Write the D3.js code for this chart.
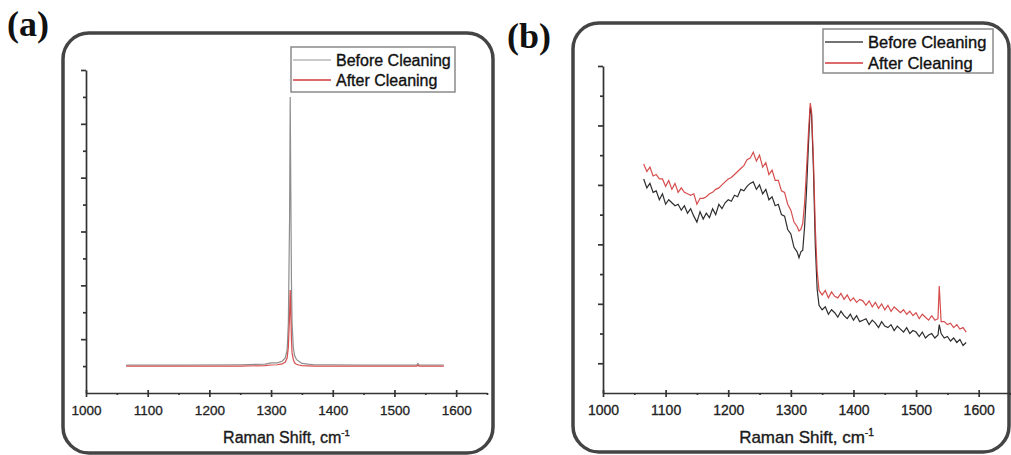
<!DOCTYPE html>
<html>
<head>
<meta charset="utf-8">
<script src="https://cdn.jsdelivr.net/npm/d3@7"></script>
<style>
  body { margin: 0; background: #fff; }
</style>
</head>
<body>
<div id="viz"></div>
<script>
// ========================================
// Data
// ========================================

var x_ticks = [1000, 1100, 1200, 1300, 1400, 1500, 1600];
var x_minor = [1050, 1150, 1250, 1350, 1450, 1550, 1650];
var legend_labels = ['Before Cleaning', 'After Cleaning'];
var axis_title = 'Raman Shift, cm';

// panel (a)
var shift_a = [1065, 1150, 1250, 1290, 1300, 1310, 1318, 1323, 1326, 1328, 1330, 1331, 1332, 1333, 1334,
               1336, 1338, 1341, 1345, 1350, 1360, 1370, 1400, 1450, 1500, 1536, 1538, 1540, 1580];
var before_a = [1.04, 1.04, 1.05, 1.07, 1.12, 1.12, 1.18, 1.3, 1.6, 2.6, 6.5, 11.0, 7.5, 4.2, 2.6,
                1.7, 1.4, 1.25, 1.18, 1.1, 1.07, 1.05, 1.05, 1.04, 1.04, 1.04, 1.1, 1.04, 1.04];
var after_a = [1.0, 1.0, 1.0, 1.02, 1.04, 1.05, 1.08, 1.15, 1.3, 1.7, 2.9, 3.83, 3.0, 2.0, 1.5,
               1.25, 1.12, 1.07, 1.04, 1.02, 1.01, 1.0, 1.0, 1.0, 1.0, 1.0, 1.03, 1.0, 1.0];

// panel (b)
var shift_b = [1065, 1070, 1075, 1080, 1085, 1090, 1095, 1100, 1105, 1110,
               1115, 1120, 1125, 1130, 1135, 1140, 1145, 1150, 1155, 1160,
               1165, 1170, 1175, 1180, 1185, 1190, 1195, 1200, 1205, 1210,
               1215, 1220, 1225, 1230, 1235, 1240, 1245, 1250, 1255, 1260,
               1265, 1270, 1275, 1280, 1285, 1290, 1295, 1300, 1305, 1310,
               1313, 1316, 1319, 1322, 1325, 1328, 1331, 1333, 1336, 1339, 1342, 1345,
               1350, 1355, 1360, 1365, 1370, 1375, 1380, 1385, 1390, 1395,
               1400, 1405, 1410, 1415, 1420, 1425, 1430, 1435, 1440, 1445,
               1450, 1455, 1460, 1465, 1470, 1475, 1480, 1485, 1490, 1495,
               1500, 1505, 1510, 1515, 1520, 1525, 1530, 1535,
               1537,
               1540, 1545, 1550, 1555, 1560, 1565, 1570, 1575, 1580];
var before_b = [7.2, 6.9, 7.05, 6.75, 6.8, 6.5, 6.7, 6.35, 6.5, 6.4,
                6.3, 6.35, 6.15, 6.3, 6.05, 6.2, 5.95, 5.75, 6.1, 5.85,
                6.05, 5.9, 6.2, 6.0, 6.35, 6.2, 6.4, 6.5, 6.45, 6.65,
                6.6, 6.85, 6.8, 6.95, 7.05, 7.1, 6.85, 7.0, 6.7, 6.85,
                6.5, 6.6, 6.3, 6.35, 6.0, 5.95, 5.5, 5.35, 4.9, 4.75,
                4.55, 4.75, 4.8, 5.6, 6.8, 8.3, 9.6, 9.4, 7.6, 5.0, 3.5, 2.95,
                2.8, 2.9, 2.65, 2.8, 2.7, 2.55, 2.75, 2.6, 2.5, 2.65,
                2.45, 2.6, 2.4, 2.45, 2.5, 2.3, 2.45, 2.35, 2.2, 2.4,
                2.25, 2.2, 2.3, 2.1, 2.25, 2.15, 2.05, 2.2, 2.0, 2.1,
                2.05, 1.9, 2.05, 1.85, 1.95, 2.0, 1.85, 1.95,
                2.3,
                2.0, 1.85, 1.9, 1.75, 1.85, 1.7, 1.8, 1.6, 1.7];
var after_b = [7.7, 7.45, 7.6, 7.3, 7.35, 7.2, 7.2, 6.95, 7.15, 6.85,
               7.05, 6.75, 6.9, 6.75, 6.7, 6.65, 6.7, 6.35, 6.55, 6.55,
               6.6, 6.7, 6.75, 6.85, 6.9, 7.0, 7.1, 7.2, 7.25, 7.35,
               7.45, 7.55, 7.65, 7.85, 7.9, 8.1, 7.8, 8.0, 7.6, 7.75,
               7.35, 7.5, 7.15, 7.15, 6.8, 6.75, 6.35, 6.15, 5.75, 5.6,
               5.45, 5.5, 5.7, 6.4, 7.5, 8.7, 9.75, 9.5, 7.9, 5.6, 4.1, 3.45,
               3.3, 3.45, 3.2, 3.4, 3.25, 3.2, 3.35, 3.15, 3.3, 3.1,
               3.2, 3.05, 3.15, 3.1, 2.95, 3.1, 2.9, 3.05, 2.85, 3.0,
               2.8, 2.95, 2.75, 2.9, 2.8, 2.7, 2.8, 2.65, 2.75, 2.6,
               2.7, 2.5, 2.65, 2.55, 2.45, 2.6, 2.45, 2.5,
               3.6,
               2.4, 2.4, 2.3, 2.35, 2.2, 2.3, 2.15, 2.2, 2.05];

// ========================================
// Layout
// ========================================

var width = 1011,
    height = 455,
    font = "'Liberation Sans', Arial, sans-serif",
    after_color = '#d23a3a',
    axis_color = '#333';

var panels = [
   {
      label: '(a)', label_x: 7, label_y: 36,
      box: {x: 63, y: 33, w: 430, h: 420},
      plot: {x0: 86, x1: 487, y0: 393, y1: 70},
      y_max: 12, major_odd: false,
      shift: shift_a, before: before_a, after: after_a,
      before_color: '#8e8e8e', legend_before: '#b8b8b8',
      legend: {x: 291, y: 47, w: 164, h: 45, row1: 60, row2: 80},
      tick_font: 13.5, tick_pad: 8, title_font: 16, title_y: 443, legend_font: 16
   },
   {
      label: '(b)', label_x: 507, label_y: 48,
      box: {x: 573, y: 23, w: 436, h: 429},
      plot: {x0: 603, x1: 1010, y0: 393, y1: 66},
      y_max: 11, major_odd: true,
      shift: shift_b, before: before_b, after: after_b,
      before_color: '#2e2e2e', legend_before: '#444',
      legend: {x: 823, y: 29, w: 170, h: 44, row1: 42, row2: 63},
      tick_font: 14, tick_pad: 8, title_font: 17, title_y: 443, legend_font: 16.5
   }
];

var svg = d3.select('#viz')
   .append('svg')
   .attr('width', width)
   .attr('height', height)
   .style('background-color', '#fff');

panels.forEach(drawPanel);

// ========================================
// Functions
// ========================================

function drawPanel(p) {
   var g = svg.append('g');

   var x = d3.scaleLinear().domain([1000, 1650]).range([p.plot.x0, p.plot.x1]);
   var y = d3.scaleLinear().domain([0, p.y_max]).range([p.plot.y0, p.plot.y1]);

   // panel letter
   svg.append('text')
      .attr('x', p.label_x)
      .attr('y', p.label_y)
      .style('font-family', "'Liberation Serif', 'Times New Roman', serif")
      .style('font-weight', 'bold')
      .style('font-size', '36px')
      .style('fill', '#111')
      .text(p.label);

   // rounded frame
   g.append('rect')
      .attr('x', p.box.x)
      .attr('y', p.box.y)
      .attr('width', p.box.w)
      .attr('height', p.box.h)
      .attr('rx', 26)
      .attr('ry', 26)
      .style('fill', 'none')
      .style('stroke', '#444')
      .style('stroke-width', 3.5);

   // spectra
   var line = d3.line()
      .x((d, i) => x(p.shift[i]))
      .y(d => y(d));

   g.append('path')
      .datum(p.before)
      .attr('d', line)
      .style('fill', 'none')
      .style('stroke', p.before_color)
      .style('stroke-width', 1.2);

   g.append('path')
      .datum(p.after)
      .attr('d', line)
      .style('fill', 'none')
      .style('stroke', after_color)
      .style('stroke-width', 1.2)
      .style('opacity', 0.9);

   // x axis, major ticks cross the line
   var x_axis = g.append('g')
      .attr('transform', `translate(0, ${p.plot.y0})`)
      .call(d3.axisBottom(x).tickValues(x_ticks).tickSize(4).tickSizeOuter(0)
         .tickPadding(p.tick_pad).tickFormat(d3.format('d')));
   x_axis.selectAll('.tick line').attr('y1', -3);
   g.append('g')
      .attr('transform', `translate(0, ${p.plot.y0})`)
      .call(d3.axisBottom(x).tickValues(x_minor).tickSize(2).tickSizeOuter(0).tickFormat(''))
      .select('.domain').remove();

   // y axis (no labels)
   var all_y = d3.range(0, p.y_max + 1);
   var major_y = all_y.filter(v => (v % 2 === 1) === p.major_odd && v > 0);
   var minor_y = all_y.filter(v => (v % 2 === 1) !== p.major_odd && v > 0);
   g.append('g')
      .attr('transform', `translate(${p.plot.x0}, 0)`)
      .call(d3.axisLeft(y).tickValues(major_y).tickSize(5).tickSizeOuter(0).tickFormat(''));
   g.append('g')
      .attr('transform', `translate(${p.plot.x0}, 0)`)
      .call(d3.axisLeft(y).tickValues(minor_y).tickSize(3).tickSizeOuter(0).tickFormat(''))
      .select('.domain').remove();

   g.selectAll('.domain, .tick line')
      .style('stroke', axis_color)
      .style('stroke-width', 1.7);

   x_axis.selectAll('text')
      .style('font-family', font)
      .style('font-size', p.tick_font + 'px')
      .style('fill', '#222')
      .style('stroke', '#222')
      .style('stroke-width', 0.3);

   // axis title
   var title = g.append('text')
      .attr('x', (p.plot.x0 + p.plot.x1) / 2)
      .attr('y', p.title_y)
      .attr('text-anchor', 'middle')
      .style('font-family', font)
      .style('font-size', p.title_font + 'px')
      .style('fill', '#1a1a1a')
      .style('stroke', '#1a1a1a')
      .style('stroke-width', 0.35)
      .text(axis_title);
   title.append('tspan')
      .attr('dy', -7)
      .style('font-size', (p.title_font * 0.6) + 'px')
      .text('-1');

   // legend
   var lg = g.append('g');
   lg.append('rect')
      .attr('x', p.legend.x)
      .attr('y', p.legend.y)
      .attr('width', p.legend.w)
      .attr('height', p.legend.h)
      .style('fill', '#fff')
      .style('stroke', '#8a8a8a')
      .style('stroke-width', 1.5);

   var rows = [p.legend.row1, p.legend.row2],
       colors = [p.legend_before, after_color];
   legend_labels.forEach((label, i) => {
      lg.append('line')
         .attr('x1', p.legend.x + 2)
         .attr('x2', p.legend.x + 40)
         .attr('y1', rows[i])
         .attr('y2', rows[i])
         .style('stroke', colors[i])
         .style('stroke-width', 1.3);
      lg.append('text')
         .attr('x', p.legend.x + 45)
         .attr('y', rows[i])
         .attr('dy', '0.35em')
         .style('font-family', font)
         .style('font-size', p.legend_font + 'px')
         .style('fill', '#111')
         .style('stroke', '#111')
         .style('stroke-width', 0.35)
         .text(label);
   });
}
</script>
</body>
</html>
